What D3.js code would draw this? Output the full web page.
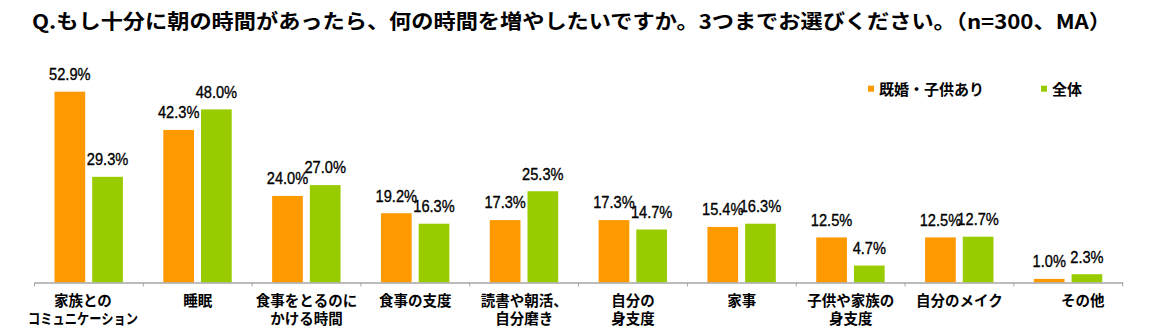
<!DOCTYPE html>
<html><head><meta charset="utf-8">
<script src="https://cdn.jsdelivr.net/npm/d3@7"></script>
<style>
html,body{margin:0;padding:0;background:#fff;}
svg{display:block;}
.cjk{font-family:"Noto Sans CJK JP","Noto Sans CJK SC",sans-serif;font-weight:bold;}
.num{font-family:"Liberation Sans",Arial,sans-serif;}
</style></head>
<body>
<svg id="chart" width="1171" height="336"></svg>
<script>
const titleText = "Q.もし十分に朝の時間があったら、何の時間を増やしたいですか。3つまでお選びください。（n=300、MA）";
const categories = [
  ["家族との","コミュニケーション"],
  ["睡眠"],
  ["食事をとるのに","かける時間"],
  ["食事の支度"],
  ["読書や朝活、","自分磨き"],
  ["自分の","身支度"],
  ["家事"],
  ["子供や家族の","身支度"],
  ["自分のメイク"],
  ["\u3000\u3000その他"]
];
const seriesNames = ["既婚・子供あり","全体"];
const marriedValues = [52.9, 42.3, 24.0, 19.2, 17.3, 17.3, 15.4, 12.5, 12.5, 1.0];
const totalValues   = [29.3, 48.0, 27.0, 16.3, 25.3, 14.7, 16.3, 4.7, 12.7, 2.3];
const colors = ["#FF9900", "#99CC00"];

const svg = d3.select("#chart");

// title
svg.append("text").attr("class","cjk")
  .attr("x", 32).attr("y", 29)
  .attr("font-size", 20).attr("fill","#000")
  .attr("textLength", 1079).attr("lengthAdjust","spacingAndGlyphs")
  .text(titleText);

const x = d3.scaleBand().domain(d3.range(categories.length)).range([34.5, 1122.7]).padding(0);
const xs = d3.scaleBand().domain([0,1]).range([20, 88.4]).paddingInner(0.186).paddingOuter(0);
const y = d3.scaleLinear().domain([0, 60]).range([282.5, 282.5 - 3.607*60]);

const data = categories.map((c,i)=>({i, vals:[marriedValues[i], totalValues[i]]}));

const g = svg.append("g");
const groups = g.selectAll("g.cat").data(data).join("g").attr("class","cat")
  .attr("transform", d=>`translate(${x(d.i)},0)`);

groups.selectAll("rect").data(d=>d.vals.map((v,s)=>({v,s}))).join("rect")
  .attr("x", d=>xs(d.s)).attr("width", xs.bandwidth())
  .attr("y", d=>y(d.v)).attr("height", d=>y(0)-y(d.v))
  .attr("fill", d=>colors[d.s]);

groups.selectAll("text.val").data(d=>d.vals.map((v,s)=>({v,s}))).join("text")
  .attr("class","val num")
  .attr("x", d=>xs(d.s)+xs.bandwidth()/2).attr("y", d=>y(d.v)-11.7)
  .attr("text-anchor","middle").attr("font-size", 17).attr("fill","#000")
  .attr("stroke","#000").attr("stroke-width",0.35)
  .text(d=>d.v.toFixed(1)+"%")
  .each(function(){
    const L = this.getComputedTextLength();
    d3.select(this).attr("textLength", L*0.86).attr("lengthAdjust","spacingAndGlyphs");
  });

// axis
const axis = d3.axisBottom(x).tickSize(0).tickFormat("");
const ag = svg.append("g").attr("transform", `translate(0,${y(0)})`).call(axis);
ag.select(".domain").attr("stroke","#A6A6A6").attr("stroke-width",1.5);
ag.selectAll(".tick").remove();
const bounds = d3.range(categories.length+1).map(i=> i<categories.length ? x(i) : x.range()[1]);
ag.selectAll("line.bt").data(bounds).join("line").attr("class","bt")
  .attr("x1",d=>d).attr("x2",d=>d).attr("y1",0).attr("y2",4)
  .attr("stroke","#A6A6A6").attr("stroke-width",1);

// category labels
const lab = svg.append("g");
categories.forEach((lines,i)=>{
  const cx = x(i)+x.bandwidth()/2 - (i===0 ? 6 : 0);
  lines.forEach((ln,k)=>{
    const t = lab.append("text").attr("class","cjk")
      .attr("x", cx).attr("y", 305.5 + k*18.5)
      .attr("text-anchor","middle").attr("font-size",14.5).attr("fill","#000")
      .style("white-space","pre").text(ln);
    const L = t.node().getComputedTextLength();
    if (L > 112) t.attr("textLength", 110).attr("lengthAdjust","spacingAndGlyphs");
  });
});

// legend
const legX = [868, 1041];
const lg = svg.append("g");
seriesNames.forEach((n,s)=>{
  lg.append("rect").attr("x",legX[s]).attr("y",85.7).attr("width",6).attr("height",6).attr("fill",colors[s]);
  lg.append("text").attr("class","cjk").attr("x",legX[s]+11).attr("y",94.5)
    .attr("font-size",15).attr("fill","#000").text(n);
});
</script>
</body></html>
